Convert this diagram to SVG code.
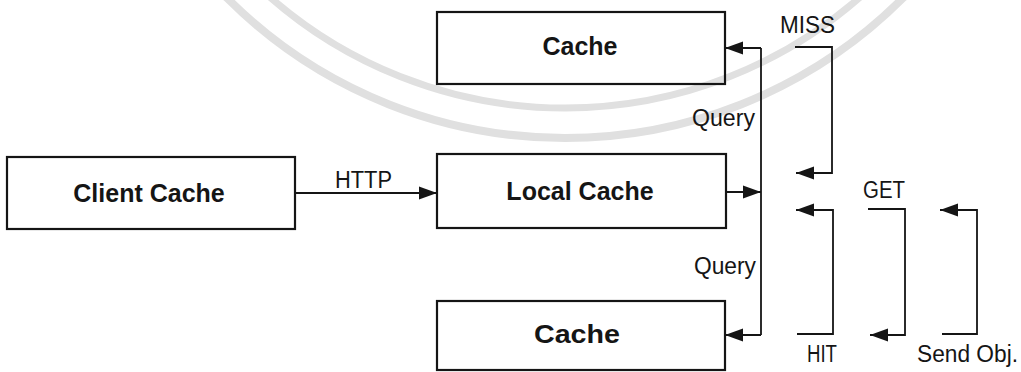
<svg xmlns="http://www.w3.org/2000/svg" width="1021" height="372" viewBox="0 0 1021 372">
  <defs>
    <style>
      .box { fill: none; stroke: #151515; stroke-width: 2.2; }
      .title { font-family: "Liberation Sans", Arial, Helvetica, sans-serif; font-weight: bold; font-size: 25px; fill: #151515; text-anchor: middle; }
      .label { font-family: "Liberation Sans", Arial, Helvetica, sans-serif; font-size: 23px; fill: #151515; }
      .wire { fill: none; stroke: #151515; stroke-width: 1.8; }
      .ring { fill: none; stroke: #e0e0e0; }
    </style>
    <marker id="arrow" markerUnits="userSpaceOnUse" markerWidth="19" markerHeight="14" refX="18" refY="7" orient="auto">
      <path d="M0,0.5 L18,7 L0,13.5 Z" fill="#151515"/>
    </marker>
  </defs>

  <rect width="1021" height="372" fill="#ffffff"/>

  <!-- faint seal rings in the background -->
  <g id="seal">
    <circle class="ring" cx="565" cy="-340" r="478" stroke-width="8"/>
    <circle class="ring" cx="565" cy="-340" r="448" stroke-width="7"/>
  </g>

  <!-- cache nodes -->
  <g id="client-cache">
    <rect class="box" x="7" y="157" width="288" height="72"/>
    <text class="title" x="149" y="202">Client Cache</text>
  </g>
  <g id="local-cache">
    <rect class="box" x="437" y="154" width="289" height="74"/>
    <text class="title" x="580" y="200">Local Cache</text>
  </g>
  <g id="cache-top">
    <rect class="box" x="437" y="12" width="288" height="72"/>
    <text class="title" x="580" y="55">Cache</text>
  </g>
  <g id="cache-bottom">
    <rect class="box" x="437" y="301" width="288" height="69"/>
    <text class="title" x="577" y="343" font-size="26" textLength="86" lengthAdjust="spacingAndGlyphs">Cache</text>
  </g>

  <!-- connectors and message flows -->
  <g id="connectors">
    <path class="wire" d="M295,193 H437" marker-end="url(#arrow)"/>
    <path class="wire" d="M726,192 H761" marker-end="url(#arrow)"/>
    <path class="wire" d="M761,48 V335"/>
    <path class="wire" d="M761,48 H725" marker-end="url(#arrow)"/>
    <path class="wire" d="M761,335 H725" marker-end="url(#arrow)"/>

    <path class="wire" d="M795,47 H832 V173 H796" marker-end="url(#arrow)"/>
    <path class="wire" d="M797,334 H833 V210 H796" marker-end="url(#arrow)"/>
    <path class="wire" d="M868,209 H905 V335 H870" marker-end="url(#arrow)"/>
    <path class="wire" d="M942,334 H977 V210 H940" marker-end="url(#arrow)"/>

    <text class="label" x="335" y="188" textLength="57" lengthAdjust="spacingAndGlyphs">HTTP</text>
    <text class="label" x="692" y="126" textLength="63" lengthAdjust="spacingAndGlyphs">Query</text>
    <text class="label" x="694" y="274" textLength="62" lengthAdjust="spacingAndGlyphs">Query</text>
    <text class="label" x="780" y="33" textLength="55" lengthAdjust="spacingAndGlyphs">MISS</text>
    <text class="label" x="863" y="198" textLength="42" lengthAdjust="spacingAndGlyphs">GET</text>
    <text class="label" x="807" y="362" textLength="30" lengthAdjust="spacingAndGlyphs">HIT</text>
    <text class="label" x="917" y="362" textLength="101" lengthAdjust="spacingAndGlyphs">Send Obj.</text>
  </g>
</svg>
